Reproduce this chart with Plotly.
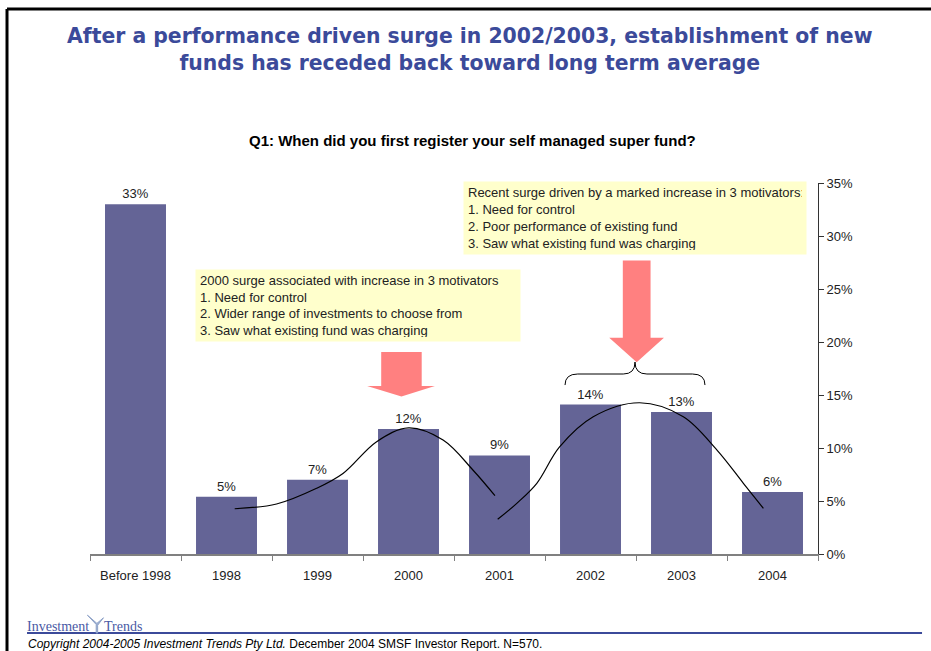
import plotly.graph_objects as go

# ---- data ----
categories = ["Before 1998", "1998", "1999", "2000", "2001", "2002", "2003", "2004"]
share_pct = [33.0, 5.4, 7.0, 11.8, 9.3, 14.1, 13.4, 5.85]
share_labels = ["33%", "5%", "7%", "12%", "9%", "14%", "13%", "6%"]

# hand drawn trend curves (category index, percent)
curve_2000_x = [1.09, 1.55, 1.99, 2.28, 2.65, 3.0, 3.38, 3.71, 3.95]
curve_2000_y = [4.27, 4.72, 6.2, 7.6, 10.6, 11.9, 10.75, 7.9, 5.5]
curve_2003_x = [3.98, 4.19, 4.41, 4.66, 5.03, 5.54, 6.02, 6.39, 6.68, 6.90]
curve_2003_y = [3.27, 4.78, 6.67, 10.1, 12.95, 14.27, 12.95, 9.8, 6.67, 4.3]

y_ticks = [0, 5, 10, 15, 20, 25, 30, 35]
y_tick_labels = ["0%", "5%", "10%", "15%", "20%", "25%", "30%", "35%"]

note_2000 = ("2000 surge associated with increase in 3 motivators<br>1. Need for control<br>"
             "2. Wider range of investments to choose from<br>3. Saw what existing fund was charging")
note_2003 = ("Recent surge driven by a marked increase in 3 motivators:<br>1. Need for control<br>"
             "2. Poor performance of existing fund<br>3. Saw what existing fund was charging")

SANS = "Liberation Sans, Arial, sans-serif"
NAVY = "#3B4A9A"
BAR = "#646496"
PINK = "#FF8080"

fig = go.Figure()
fig.add_trace(go.Bar(x=categories, y=share_pct, width=0.67, marker=dict(color=BAR, line_width=0),
                     text=share_labels, textposition="outside", cliponaxis=False,
                     textfont=dict(family=SANS, size=13, color="#222")))
for cx, cy in [(curve_2000_x, curve_2000_y), (curve_2003_x, curve_2003_y)]:
    fig.add_trace(go.Scatter(x=cx, y=cy, xaxis="x2", mode="lines",
                             line=dict(color="black", width=1.2, shape="spline", smoothing=1.0),
                             hoverinfo="skip"))

shapes = []
# pink arrows (x2 / y data coords)
def arrow(xl, xr, hl, hr, top, neck, tip):
    xc = (xl + xr) / 2
    return dict(type="path", xref="x2", yref="y", fillcolor=PINK, line_width=0,
                path=f"M {xl},{top} L {xr},{top} L {xr},{neck} L {hr},{neck} L {xc},{tip} "
                     f"L {hl},{neck} L {xl},{neck} Z")
shapes.append(arrow(2.70, 3.145, 2.545, 3.29, 19.06, 15.85, 14.85))
shapes.append(arrow(5.355, 5.66, 5.206, 5.807, 27.7, 20.4, 18.1))
# curly brace over 2002-2003
shapes.append(dict(type="path", xref="x2", yref="y", line=dict(color="black", width=1),
                   path="M 4.72,15.94 Q 4.72,16.98 4.86,16.98 L 5.36,16.98 Q 5.489,16.98 5.489,18.11 "
                        "Q 5.489,16.98 5.62,16.98 L 6.12,16.98 Q 6.258,16.98 6.258,15.94"))
# page frame
shapes.append(dict(type="line", xref="paper", yref="paper", x0=-0.114, x1=1.16, y0=1.469, y1=1.469,
                   line=dict(color="black", width=3)))
shapes.append(dict(type="line", xref="paper", yref="paper", x0=-0.114, x1=-0.114, y0=1.469, y1=-0.27,
                   line=dict(color="black", width=3)))
# footer rule
shapes.append(dict(type="line", xref="paper", yref="paper", x0=-0.0865, x1=1.1429, y0=-0.213, y1=-0.213,
                   line=dict(color=NAVY, width=2)))
# logo "Y" mark
shapes.append(dict(type="path", xref="paper", yref="paper", fillcolor="#9DB0D2", line=dict(color="#8EA2C8", width=1),
                   path="M -0.0035,-0.165 L 0.0085,-0.190 L 0.0085,-0.213 L 0.0105,-0.213 L 0.0105,-0.192 "
                        "L 0.0185,-0.172 L 0.0095,-0.187 Z"))

annotations = [
    dict(text="After a performance driven surge in 2002/2003, establishment of new<br>"
              "funds has receded back toward long term average",
         xref="paper", yref="paper", x=0.522, y=1.36, xanchor="center", yanchor="middle", showarrow=False,
         font=dict(family="DejaVu Sans", size=20.4, color=NAVY, weight="bold")),
    dict(text="<b>Q1: When did you first register your self managed super fund?</b>",
         xref="paper", yref="paper", x=0.5254, y=1.114, xanchor="center", yanchor="middle", showarrow=False,
         font=dict(family=SANS, size=15, color="black")),
    dict(text=note_2000, xref="paper", yref="paper", x=0.1442, y=0.768, xanchor="left", yanchor="top",
         showarrow=False, align="left", bgcolor="#FFFFCC", width=316, height=63, borderpad=4,
         font=dict(family=SANS, size=13, color="#222")),
    dict(text=note_2003, xref="paper", yref="paper", x=0.5124, y=1.0054, xanchor="left", yanchor="top",
         showarrow=False, align="left", bgcolor="#FFFFCC", width=334, height=64, borderpad=4,
         font=dict(family=SANS, size=13, color="#222")),
    dict(text="Investment", xref="paper", yref="paper", x=-0.0895, y=-0.195, xanchor="left", yanchor="middle",
         showarrow=False, font=dict(family="Liberation Serif, serif", size=14, color="#4A5AA5")),
    dict(text="Trends", xref="paper", yref="paper", x=0.0165, y=-0.195, xanchor="left", yanchor="middle",
         showarrow=False, font=dict(family="Liberation Serif, serif", size=14, color="#4A5AA5")),
    dict(text="<i>Copyright 2004-2005 Investment Trends Pty Ltd.</i> December 2004 SMSF Investor Report. N=570.",
         xref="paper", yref="paper", x=-0.088, y=-0.243, xanchor="left", yanchor="middle",
         showarrow=False, font=dict(family=SANS, size=12, color="black")),
]

fig.update_layout(
    width=931, height=651, margin=dict(l=90, r=113, t=183, b=97),
    paper_bgcolor="white", plot_bgcolor="white", showlegend=False, bargap=0.33,
    shapes=shapes, annotations=annotations,
    xaxis=dict(type="category", range=[-0.5, 7.5], showline=True, linecolor="#808080", linewidth=2,
               ticks="outside", tickson="boundaries", ticklen=5, tickcolor="#808080",
               ticklabelstandoff=8,
               tickfont=dict(family=SANS, size=13, color="#222"), showgrid=False, fixedrange=True),
    xaxis2=dict(overlaying="x", range=[-0.5, 7.5], visible=False, fixedrange=True),
    yaxis=dict(side="right", range=[0, 35], tickvals=y_ticks, ticktext=y_tick_labels, showline=True,
               linecolor="#333", linewidth=1, ticks="outside", ticklen=5, tickcolor="#333",
               showgrid=False, zeroline=False, fixedrange=True,
               tickfont=dict(family=SANS, size=13, color="#222")),
)

# page body has a default 8px margin; drop it so the figure fills the window
fig.write_html("out.html", config={"displayModeBar": False},
               post_script="document.body.style.margin='0px';")
